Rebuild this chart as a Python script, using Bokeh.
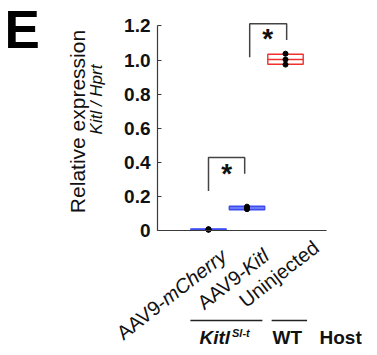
import math
from bokeh.plotting import figure
from bokeh.models import Range1d, FixedTicker, Label
from bokeh.embed import file_html
from bokeh.resources import INLINE

# ---------------- data ----------------
categories = ["AAV9-mCherry", "AAV9-Kitl", "Uninjected"]
cat_plain = ["AAV9-", "AAV9-", "Uninjected"]
cat_italic = ["mCherry", "Kitl", ""]
cat_pos = [1, 2, 3]
q1 = [0.004, 0.122, 0.975]
median = [0.006, 0.132, 1.003]
q3 = [0.009, 0.142, 1.034]
points = [[0.004, 0.006, 0.008], [0.125, 0.132, 0.140], [0.973, 1.003, 1.037]]
box_colors = ["#3b4cf2", "#3b4cf2", "#f0302f"]
y_ticks = [0, 0.2, 0.4, 0.6, 0.8, 1.0, 1.2]
y_tick_labels = ["0", "0.2", "0.4", "0.6", "0.8", "1.0", "1.2"]
# significance brackets: x_left, x_right, y_left_bottom, y_top, y_right_bottom
brackets = [(1.0, 1.94, 0.231, 0.428, 0.333), (2.07, 3.03, 1.016, 1.212, 1.118)]
stars_x = [1.47, 2.54]
stars_y = [0.335, 1.126]
# group underlines (data x extents)
groups = [("Kitl", 0.53, 2.40), ("WT", 2.64, 3.56)]

# ---------------- layout (whole canvas is the frame) ----------------
W, H = 369, 351
XS = 38.5          # px per x unit
YS = 170.5         # px per y unit
X_CAT1_PX = 208    # canvas x of first category
Y0_PX = 230        # canvas y of value 0
X0 = cat_pos[0] - X_CAT1_PX / XS
X1 = X0 + W / XS
Y1 = Y0_PX / YS
Y0 = Y1 - H / YS

def dx(px):  # canvas x -> data x
    return X0 + px / XS

def dy(py):  # canvas y -> data y
    return (Y0_PX - py) / YS

p = figure(width=W, height=H, output_backend="svg", toolbar_location=None,
           x_range=Range1d(X0, X1), y_range=Range1d(Y0, Y1),
           x_axis_location="above",
           min_border=0, min_border_left=0, min_border_right=0,
           min_border_top=0, min_border_bottom=0)
p.outline_line_color = None
p.grid.visible = False
p.background_fill_color = "white"
p.border_fill_color = "white"

FONT = "Liberation Sans"
AX = "#3a3a3a"
AXIS_X_LEFT, AXIS_X_RIGHT = dx(157), dx(326)

xa = p.xaxis[0]
xa.fixed_location = 0
xa.bounds = (AXIS_X_LEFT, AXIS_X_RIGHT)
xa.axis_line_color = AX
xa.axis_line_width = 1.2
xa.ticker = FixedTicker(ticks=[])
xa.major_tick_line_color = None
xa.minor_tick_line_color = None
xa.major_tick_in = 0
xa.major_tick_out = 0
xa.major_label_standoff = 0

ya = p.yaxis[0]
ya.fixed_location = AXIS_X_LEFT
ya.bounds = (y_ticks[0], y_ticks[-1])
ya.ticker = FixedTicker(ticks=y_ticks)
ya.major_label_overrides = {t: l for t, l in zip(y_ticks, y_tick_labels)}
ya.axis_line_color = AX
ya.axis_line_width = 1.2
ya.minor_tick_line_color = None
ya.major_tick_in = 4
ya.major_tick_out = 0
ya.major_tick_line_color = AX
ya.major_label_standoff = 7
ya.major_label_text_font = FONT
ya.major_label_text_font_style = "bold"
ya.major_label_text_font_size = "19px"
ya.major_label_text_color = "#111111"

# ---------------- boxes ----------------
bw = 0.46
p.quad(left=[c - bw for c in cat_pos], right=[c + bw for c in cat_pos],
       bottom=q1, top=q3, fill_color="white", fill_alpha=0.0,
       line_color=box_colors, line_width=1.4)
p.segment(x0=[c - bw for c in cat_pos], x1=[c + bw for c in cat_pos],
          y0=median, y1=median, line_color=box_colors, line_width=1.4)
px_, py_ = [], []
for c, pts in zip(cat_pos, points):
    for v in pts:
        px_.append(c)
        py_.append(v)
p.scatter(px_, py_, size=5, color="black")

# ---------------- brackets & stars ----------------
for (xl, xr, yl, yt, yr) in brackets:
    p.line([xl, xl, xr, xr], [yl, yt, yt, yr], line_color="#444444", line_width=1.5)
for sx, sy in zip(stars_x, stars_y):
    p.add_layout(Label(x=sx, y=sy, text="*", text_align="center", text_baseline="alphabetic",
                       text_font=FONT, text_font_style="bold", text_font_size="28px",
                       text_color="#111111"))

# ---------------- category labels ----------------
th = math.radians(38)
cat_fs = 20
cat_anchor_px = [(223.4, 252.9), (265.6, 252.6), (315.6, 244.3)]
italic_em = {"mCherry": 3.833, "Kitl": 1.389, "": 0.0}
for plain, ital, (ax_, ay_) in zip(cat_plain, cat_italic, cat_anchor_px):
    xa_, ya_ = dx(ax_), dy(ay_)
    if ital:
        p.add_layout(Label(x=xa_, y=ya_, text=ital, angle=th, text_align="right",
                           text_baseline="middle", text_font=FONT, text_font_style="italic",
                           text_font_size=f"{cat_fs}px", text_color="#111111"))
    w = italic_em[ital] * cat_fs
    xb = xa_ - w * math.cos(th) / XS
    yb = ya_ - w * math.sin(th) / YS
    p.add_layout(Label(x=xb, y=yb, text=plain, angle=th, text_align="right",
                       text_baseline="middle", text_font=FONT,
                       text_font_size=f"{cat_fs}px", text_color="#111111"))

# ---------------- y label ----------------
p.add_layout(Label(x=dx(76.5), y=dy(121), text="Relative expression", angle=math.pi / 2,
                   text_align="center", text_baseline="middle", text_font=FONT,
                   text_font_size="21px", text_color="#111111"))
p.add_layout(Label(x=dx(95.5), y=dy(99), text="Kitl / Hprt", angle=math.pi / 2,
                   text_align="center", text_baseline="middle", text_font=FONT,
                   text_font_style="italic", text_font_size="17px", text_color="#111111"))

# ---------------- group labels ----------------
p.segment(x0=[g[1] for g in groups], x1=[g[2] for g in groups],
          y0=[dy(320)] * len(groups), y1=[dy(320)] * len(groups),
          line_color="#222222", line_width=1.5)
p.add_layout(Label(x=dx(199), y=dy(337), text="Kitl", text_align="left",
                   text_baseline="middle", text_font=FONT, text_font_style="bold italic",
                   text_font_size="19px", text_color="#111111"))
p.add_layout(Label(x=dx(231.5), y=dy(332), text="Sl-t", text_align="left",
                   text_baseline="middle", text_font=FONT, text_font_style="bold italic",
                   text_font_size="11px", text_color="#111111"))
p.add_layout(Label(x=dx(272), y=dy(337), text="WT", text_align="left",
                   text_baseline="middle", text_font=FONT, text_font_style="bold",
                   text_font_size="19px", text_color="#111111"))
p.add_layout(Label(x=dx(319), y=dy(337), text="Host", text_align="left",
                   text_baseline="middle", text_font=FONT, text_font_style="bold",
                   text_font_size="19px", text_color="#111111"))

# panel letter
p.add_layout(Label(x=dx(4), y=dy(29), text="E", text_align="left",
                   text_baseline="middle", text_font=FONT, text_font_style="bold",
                   text_font_size="53px", text_color="#000000"))

open("out.html", "w").write(file_html(p, INLINE))
